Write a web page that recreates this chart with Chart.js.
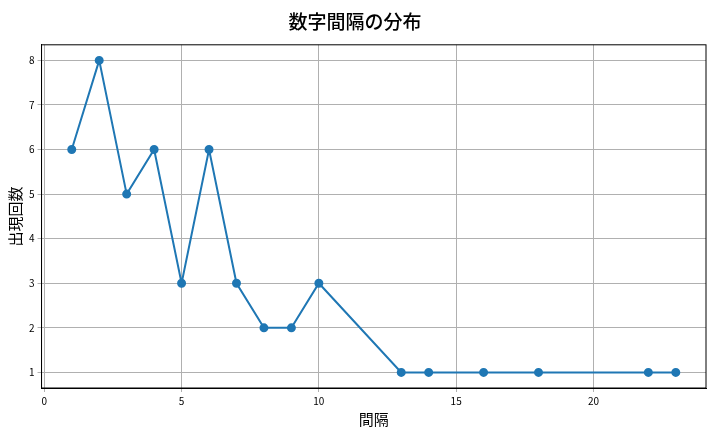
<!DOCTYPE html>
<html>
<head>
<meta charset="utf-8">
<script src="https://cdn.jsdelivr.net/npm/chart.js@4"></script>
<style>
body{margin:0;background:#fff;}
</style>
</head>
<body>
<canvas id="c" width="720" height="432"></canvas>
<script>
const gaps = [1,2,3,4,5,6,7,8,9,10,13,14,16,18,22,23];
const counts = [6,8,5,6,3,6,3,2,2,3,1,1,1,1,1,1];
const xTicks = [0,5,10,15,20];
const yTicks = [1,2,3,4,5,6,7,8];

const font = "'Noto Sans CJK JP', 'DejaVu Sans', sans-serif";

new Chart(document.getElementById("c"), {
  type: "line",
  data: {
    datasets: [{
      data: gaps.map((g, i) => ({x: g, y: counts[i]})),
      borderColor: "#1f77b4",
      backgroundColor: "#1f77b4",
      borderWidth: 2,
      pointRadius: 3.5,
      pointHoverRadius: 3.5,
      tension: 0
    }]
  },
  options: {
    responsive: false,
    animation: false,
    devicePixelRatio: 1,
    layout: {padding: {left: 4, right: 14, top: 0, bottom: 4}},
    plugins: {
      legend: {display: false},
      tooltip: {enabled: false},
      title: {
        display: true,
        text: "数字間隔の分布",
        color: "#000",
        font: {family: font, size: 19, weight: "500"},
        padding: {top: 10, bottom: 12}
      }
    },
    scales: {
      x: {
        type: "linear",
        min: -0.1, max: 24.1,
        afterBuildTicks: s => { s.ticks = xTicks.map(v => ({value: v})); },
        ticks: {color: "#000", font: {family: font, size: 10}, maxRotation: 0},
        grid: {color: "#b0b0b0", drawTicks: true, tickLength: 4},
        border: {color: "#000"},
        title: {display: true, text: "間隔", color: "#000", font: {family: font, size: 15}, padding: 0}
      },
      y: {
        min: 0.65, max: 8.35,
        afterBuildTicks: s => { s.ticks = yTicks.map(v => ({value: v})); },
        ticks: {color: "#000", font: {family: font, size: 10}},
        grid: {color: "#b0b0b0", drawTicks: true, tickLength: 4},
        border: {color: "#000"},
        title: {display: true, text: "出現回数", color: "#000", font: {family: font, size: 15}, padding: 2}
      }
    }
  },
  plugins: [{
    id: "frame",
    afterDraw(chart) {
      const {ctx, chartArea: a} = chart;
      ctx.save();
      ctx.strokeStyle = "#000";
      ctx.lineWidth = 1;
      ctx.strokeRect(a.left, a.top, a.right - a.left, a.bottom - a.top);
      ctx.restore();
    }
  }]
});
</script>
</body>
</html>
